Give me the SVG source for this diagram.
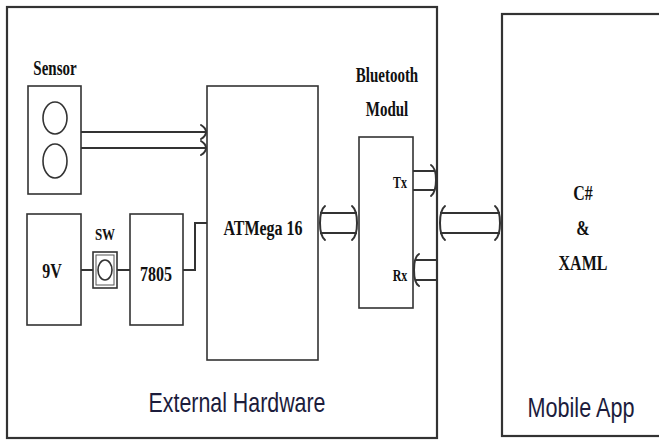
<svg xmlns="http://www.w3.org/2000/svg" width="659" height="441" viewBox="0 0 659 441">
<style>
.box{fill:none;stroke:#333;stroke-width:1.6}
.frame{fill:none;stroke:#333;stroke-width:2.2}
.ln{fill:none;stroke:#333;stroke-width:2}
.hd{fill:none;stroke:#333;stroke-width:2;stroke-linecap:round}
.s{font-family:"Liberation Serif","Times New Roman",serif;font-weight:bold;fill:#111;text-anchor:middle}
.t{font-family:"Liberation Sans",Arial,sans-serif;fill:#1c1c3c;text-anchor:middle}
</style>
<rect width="659" height="441" fill="#fff"/>
<g id="external-hardware">
<rect class="frame" x="7" y="7" width="430" height="431"/>
<text class="t" x="237" y="412" font-size="21" textLength="177" lengthAdjust="spacingAndGlyphs" transform="matrix(1 0 0 1.35 0 -144.2)">External Hardware</text>
</g>
<g id="mobile-app">
<rect class="frame" x="502" y="14" width="180" height="422"/>
<text class="t" x="581" y="417" font-size="21" textLength="107" lengthAdjust="spacingAndGlyphs" transform="matrix(1 0 0 1.35 0 -145.95)">Mobile App</text>
<text class="s" x="583" y="200" font-size="16" transform="matrix(1 0 0 1.35 0 -70)">C#</text>
<text class="s" x="583" y="235" font-size="16" transform="matrix(1 0 0 1.35 0 -82.25)">&amp;</text>
<text class="s" x="583" y="270" font-size="16" transform="matrix(1 0 0 1.35 0 -94.5)">XAML</text>
</g>
<g id="sensor">
<text class="s" x="55" y="75" font-size="15" transform="matrix(1 0 0 1.35 0 -26.25)">Sensor</text>
<rect class="box" x="28" y="86" width="53" height="108"/>
<ellipse class="box" cx="55" cy="118" rx="12" ry="16"/>
<ellipse class="box" cx="55" cy="161" rx="12" ry="17"/>
</g>
<g id="atmega">
<rect class="box" x="207" y="86" width="111" height="274"/>
<text class="s" x="263" y="235" font-size="16" transform="matrix(1 0 0 1.35 0 -82.25)">ATMega 16</text>
</g>
<g id="battery">
<rect class="box" x="27" y="214" width="54" height="111"/>
<text class="s" x="52" y="278" font-size="16" transform="matrix(1 0 0 1.35 0 -97.3)">9V</text>
</g>
<g id="switch">
<text class="s" x="105" y="240" font-size="13" transform="matrix(1 0 0 1.35 0 -84)">SW</text>
<rect class="box" x="93" y="252" width="24" height="36"/>
<rect fill="none" stroke="#555" stroke-width="1" x="96" y="255" width="18" height="30"/>
<ellipse class="box" cx="105" cy="270" rx="7" ry="10"/>
</g>
<g id="regulator">
<rect class="box" x="130" y="214" width="53" height="111"/>
<text class="s" x="156" y="281" font-size="16" transform="matrix(1 0 0 1.35 0 -98.35)">7805</text>
</g>
<g id="bluetooth">
<text class="s" x="387" y="82" font-size="15" transform="matrix(1 0 0 1.35 0 -28.7)">Bluetooth</text>
<text class="s" x="387" y="116" font-size="15" transform="matrix(1 0 0 1.35 0 -40.6)">Modul</text>
<rect class="box" x="359" y="137" width="54" height="171"/>
<text class="s" x="400" y="188" font-size="12" transform="matrix(1 0 0 1.35 0 -65.8)">Tx</text>
<text class="s" x="400" y="281" font-size="12" transform="matrix(1 0 0 1.35 0 -98.35)">Rx</text>
</g>
<g id="connectors">
<path class="ln" d="M81 270H93M117 270H130M183 270H195V223H207"/>
<!-- sensor to atmega -->
<path class="ln" d="M81 132H205M81 148H205"/>
<path class="hd" d="M201 125Q206 128 206 132Q206 136 201 139M201 141Q206 144 206 148Q206 152 201 155"/>
<!-- atmega <-> bluetooth -->
<path class="ln" d="M320 213H357M320 233H357"/>
<path class="hd" d="M325 206Q320 210 320 223Q320 236 325 240M352 206Q357 210 357 223Q357 236 352 240"/>
<!-- Tx -->
<path class="ln" d="M413 171H435M413 190H435"/>
<path class="hd" d="M431 165Q436 168 436 180Q436 192 431 196"/>
<!-- Rx -->
<path class="ln" d="M416 260H437M416 280H437"/>
<path class="hd" d="M419 254Q414 257 414 270Q414 283 419 286"/>
<!-- hardware <-> app -->
<path class="ln" d="M440 213H500M440 233H500"/>
<path class="hd" d="M445 206Q440 210 440 223Q440 236 445 240M495 206Q500 210 500 223Q500 236 495 240"/>
</g>
</svg>
